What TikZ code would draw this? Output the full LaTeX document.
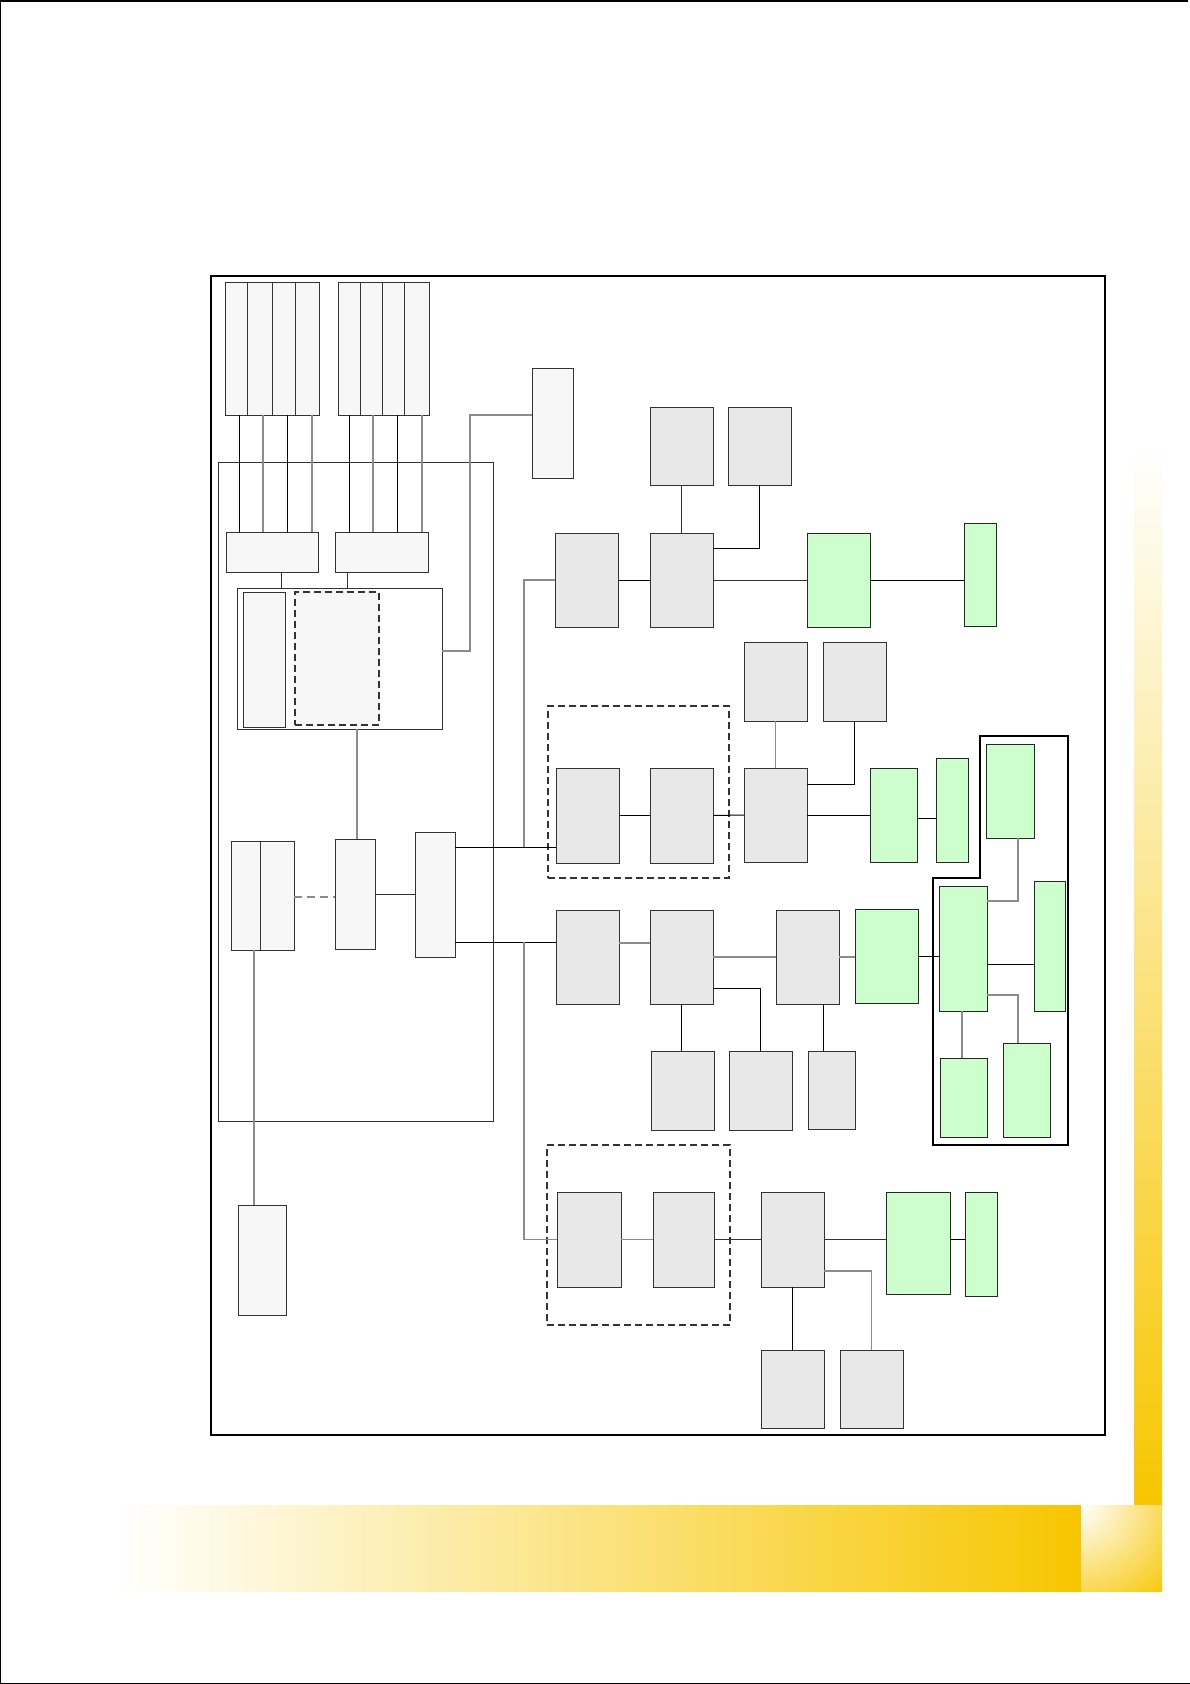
\documentclass[tikz,border=0pt]{standalone}
\usetikzlibrary{calc}
\definecolor{gold}{HTML}{F7C600}
\definecolor{lg}{HTML}{F7F7F7}
\definecolor{mg}{HTML}{E8E8E8}
\definecolor{gr}{HTML}{CCFFCC}
\definecolor{ln}{HTML}{333333}
\definecolor{gl}{HTML}{8C8C8C}
\tikzset{
 bxbase/.style={draw=ln, line width=1pt, inner sep=0pt, outer sep=0pt, rectangle},
 lbox/.style={bxbase, fill=lg},
 mbox/.style={bxbase, fill=mg},
 gbox/.style={bxbase, fill=gr, draw=black!85},
 wbox/.style={bxbase, fill=white},
 obox/.style={bxbase},
 dbox/.style={bxbase, line width=1.2pt, draw=ln, dash pattern=on 7pt off 4pt},
 cb/.style={line width=1pt, draw=black},
 cg/.style={line width=1.1pt, draw=gl},
 cd/.style={line width=1pt, draw=ln},
}
\newcommand{\bx}[6]{\node[#2, minimum width={(#5-#3)*1pt}, minimum height={(#6-#4)*1pt}] (#1) at ({(#3+#5)/2},{(#4+#6)/2}) {};}
\begin{document}
\begin{tikzpicture}[x=1pt,y=-1pt]
\useasboundingbox (0,0) rectangle (1190,1684);
\fill[white] (0,0) rectangle (1190,1684);
% page lines
\draw[line width=1.5pt] (0,0.75) -- (1188,0.75);
\draw[line width=1pt] (0.5,0) -- (0.5,1684);
\draw[line width=1pt] (0,1683.2) -- (1190,1683.2);
% gradients
\shade[left color=white, right color=gold] (116,1505) rectangle (1081,1591);
\shade[top color=white, bottom color=gold] (1134,442) rectangle (1162,1505);
\begin{scope}
\clip (1081,1505) rectangle (1162,1591);
\shade[inner color=white, outer color=gold] (1081,1505) circle (125pt);
\end{scope}
% frame
\draw[line width=1.3pt] (211,276) rectangle (1105,1435);
% enclosure
\bx{Enc}{obox}{218}{462}{493}{1121}
% dashed groups
\bx{Dsh2}{dbox}{548}{706}{729}{878}
\bx{Dsh4}{dbox}{547}{1145}{730}{1325}
% thick outline
\draw[line width=2pt] (980,736) -- (1068,736) -- (1068,1145) -- (933,1145) -- (933,878) -- (980,878) -- cycle;
% left stacks
\bx{P1}{lbox}{225}{282}{247}{415}
\bx{P2}{lbox}{247}{282}{272}{415}
\bx{P3}{lbox}{272}{282}{295}{415}
\bx{P4}{lbox}{295}{282}{319}{415}
\bx{Q1}{lbox}{338}{282}{360}{415}
\bx{Q2}{lbox}{360}{282}{382}{415}
\bx{Q3}{lbox}{382}{282}{404}{415}
\bx{Q4}{lbox}{404}{282}{429}{415}
\bx{A}{lbox}{226}{532}{318}{572}
\bx{B}{lbox}{335}{532}{428}{572}
\bx{Cont}{wbox}{237}{588}{442}{729}
\bx{Cin1}{lbox}{243}{592}{285}{727}
\bx{Cin2}{dbox,fill=lg}{295}{592}{379}{725}
\bx{T0}{lbox}{532}{368}{573}{478}
\bx{D1}{lbox}{231}{841}{260}{950}
\bx{D2}{lbox}{260}{841}{294}{950}
\bx{M}{lbox}{335}{839}{375}{949}
\bx{N}{lbox}{415}{832}{455}{957}
\bx{BL}{lbox}{238}{1205}{286}{1315}
% row 1
\bx{R1a}{mbox}{555}{533}{618}{627}
\bx{R1b}{mbox}{650}{533}{713}{627}
\bx{T1}{mbox}{650}{407}{713}{485}
\bx{T2}{mbox}{728}{407}{791}{485}
\bx{G1}{gbox}{807}{533}{870}{627}
\bx{G2}{gbox}{964}{523}{996}{626}
% row 2
\bx{R2a}{mbox}{556}{768}{619}{863}
\bx{R2b}{mbox}{650}{768}{713}{863}
\bx{R2c}{mbox}{744}{768}{807}{862}
\bx{U1}{mbox}{744}{642}{807}{721}
\bx{U2}{mbox}{823}{642}{886}{721}
\bx{H1}{gbox}{870}{768}{917}{862}
\bx{H2}{gbox}{936}{758}{968}{862}
% row 3
\bx{R3a}{mbox}{556}{910}{619}{1004}
\bx{R3b}{mbox}{650}{910}{713}{1004}
\bx{R3c}{mbox}{776}{910}{839}{1004}
\bx{B1}{mbox}{651}{1051}{714}{1130}
\bx{B2}{mbox}{729}{1051}{792}{1130}
\bx{B3}{mbox}{808}{1051}{855}{1129}
\bx{K1}{gbox}{855}{909}{918}{1003}
\bx{K2}{gbox}{939}{886}{987}{1011}
\bx{Ka}{gbox}{986}{744}{1034}{838}
\bx{Kr}{gbox}{1034}{881}{1065}{1011}
\bx{Kbr}{gbox}{1003}{1043}{1050}{1137}
\bx{Kbl}{gbox}{940}{1058}{987}{1137}
% row 4
\bx{R4a}{mbox}{557}{1192}{621}{1287}
\bx{R4b}{mbox}{653}{1192}{714}{1287}
\bx{R4c}{mbox}{761}{1192}{824}{1287}
\bx{L1}{gbox}{886}{1192}{950}{1294}
\bx{L2}{gbox}{965}{1192}{997}{1296}
\bx{C1}{mbox}{761}{1350}{824}{1428}
\bx{C2}{mbox}{840}{1350}{903}{1428}
% connectors left
\draw[cb] (P1.south -| 239,0) -- (A.north -| 239,0);
\draw[cg] (P2.south -| 263,0) -- (A.north -| 263,0);
\draw[cb] (P3.south -| 287,0) -- (A.north -| 287,0);
\draw[cg] (P4.south -| 312,0) -- (A.north -| 312,0);
\draw[cb] (Q1.south -| 349,0) -- (B.north -| 349,0);
\draw[cg] (Q2.south -| 373,0) -- (B.north -| 373,0);
\draw[cb] (Q3.south -| 397,0) -- (B.north -| 397,0);
\draw[cg] (Q4.south -| 422,0) -- (B.north -| 422,0);
\draw[cd] (A.south -| 281,0) -- (Cont.north -| 281,0);
\draw[cd] (B.south -| 347,0) -- (Cont.north -| 347,0);
\draw[cg] (Cont.south -| 357,0) -- (M.north -| 357,0);
\draw[cg] (Cont.east |- 0,651) -- (470,651) -- (470,415) -- (T0.west |- 0,415);
\draw[cg, dash pattern=on 8pt off 5pt] (D2.east |- 0,897) -- (M.west |- 0,897);
\draw[cd] (M.east) -- (N.west |- M.east);
\draw[cg] (D1.south -| 254,0) -- (BL.north -| 254,0);
% N outputs
\coordinate (j1) at (524,847);
\coordinate (j2) at (524,942);
\draw[cb] (N.east |- j1) -- (R2a.west |- j1);
\draw[cg] (j1) |- (R1a.west);
\draw[cb] (N.east |- j2) -- (R3a.west |- j2);
\draw[cg] (j2) |- (R4a.west);
% row 1
\draw[cb] (R1a.east) -- (R1b.west);
\draw[cd] (T1.south) -- (R1b.north);
\draw[cb] (T2.south) -- (T2.south |- 0,548) -- (R1b.east |- 0,548);
\draw[cd] (R1b.east) -- (G1.west);
\draw[cb] (G1.east) -- (G1.east -| G2.west);
% row 2
\draw[cb] (R2a.east) -- (R2b.west);
\draw[cb] (R2b.east) -- (R2c.west);
\draw[cg] (U1.south) -- (R2c.north);
\draw[cb] (U2.south) -- (U2.south |- 0,784) -- (R2c.east |- 0,784);
\draw[cb] (R2c.east) -- (H1.west);
\draw[cb] (H1.east |- 0,818) -- (H2.west |- 0,818);
% row 3
\draw[cg] (R3a.east |- 0,943) -- (R3b.west |- 0,943);
\draw[cg] (R3b.east) -- (R3c.west);
\draw[cb] (R3b.south) -- (R3b.south |- B1.north);
\draw[cb] (R3b.east |- 0,988) -| (B2.north);
\draw[cb] (R3c.south -| 823,0) -- (B3.north -| 823,0);
\draw[cg] (R3c.east) -- (R3c.east -| K1.west);
\draw[cb] (K1.east) -- (K1.east -| K2.west);
\draw[cg] (Ka.south -| 1018,0) -- (1018,901) -- (K2.east |- 0,901);
\draw[cb] (K2.east |- 0,964) -- (Kr.west |- 0,964);
\draw[cg] (K2.east |- 0,995) -- (1018,995) -- (Kbr.north -| 1018,0);
\draw[cg] (K2.south -| 962,0) -- (Kbl.north -| 962,0);
% row 4
\draw[cg] (R4a.east) -- (R4b.west);
\draw[cd] (R4b.east) -- (R4c.west);
\draw[cd] (R4c.east) -- (L1.west |- R4c.east);
\draw[cb] (L1.east |- 0,1239) -- (L2.west |- 0,1239);
\draw[cb] (R4c.south) -- (C1.north);
\draw[cg] (R4c.east |- 0,1271) -| (C2.north);
\end{tikzpicture}
\end{document}
